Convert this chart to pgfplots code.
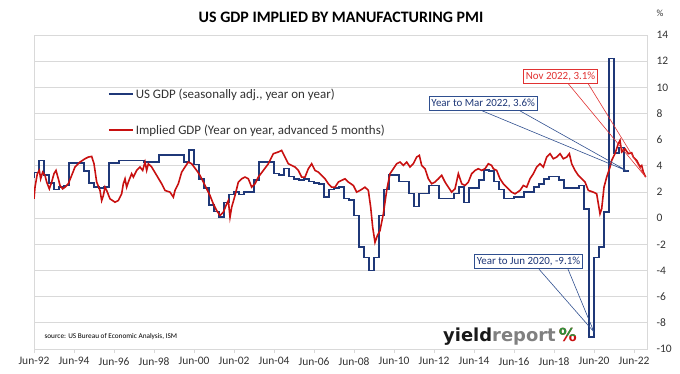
\documentclass[border=0pt]{standalone}
\usepackage{pgfplots}
\pgfplotsset{compat=1.18}
\usepackage{fontspec}
\setmainfont{Carlito}
\newfontfamily\logofont{DejaVu Sans}
\definecolor{gdpblue}{RGB}{31,56,120}
\definecolor{pmired}{RGB}{200,16,16}
\definecolor{gridgray}{RGB}{217,217,217}
\definecolor{txt}{RGB}{50,50,50}
\definecolor{annblue}{RGB}{47,79,143}
\definecolor{annred}{RGB}{225,50,50}
\definecolor{logogreen}{RGB}{40,150,60}

\pgfplotstableread{
m v
5 3.1
8 3.5
11 4.4
14 3.3
17 2.7
20 2.2
23 2.4
26 2.5
29 4.2
32 4.2
35 4.2
38 3.6
41 2.7
44 2.4
47 2.3
50 2.4
53 4.2
56 4.2
59 4.4
62 4.4
65 4.4
68 4.4
71 4.4
74 4.3
77 4.3
80 4.3
83 4.85
86 4.85
89 4.85
92 4.85
95 4.85
98 4.3
101 5.2
104 4.1
107 3.0
110 2.3
113 1.0
116 0.5
119 0.1
122 1.2
125 1.8
128 2.0
131 1.8
134 2.0
137 2.0
140 2.9
143 4.3
146 4.3
149 4.3
152 3.4
155 3.3
158 3.8
161 3.2
164 3.0
167 2.9
170 3.0
173 2.8
176 2.7
179 2.6
182 1.6
185 2.2
188 2.3
191 2.4
194 1.5
197 1.4
200 0.2
203 -2.2
206 -3.0
209 -4.0
212 -3.0
215 0.2
218 2.2
221 3.3
224 3.3
227 2.8
230 2.8
233 1.9
236 0.9
239 1.9
242 1.9
245 2.5
248 2.5
251 1.5
254 1.5
257 1.5
260 1.9
263 2.4
266 1.2
269 2.3
272 2.3
275 2.9
278 3.7
281 3.6
284 2.8
287 2.2
290 1.5
293 1.5
296 1.6
299 1.6
302 2.0
305 2.0
308 2.4
311 2.6
314 3.0
317 3.2
320 3.2
323 2.9
326 2.3
329 2.3
332 2.3
335 2.5
338 0.7
341 -9.1
344 -3.0
347 -2.2
350 0.45
353 12.2
356 5.0
359 5.4
362 3.6
}\gdpdata

\pgfplotstableread{
m v
5 1.48
5.6 2.37
7.0 3.40
8.2 3.65
9.0 3.01
10.2 3.52
11.6 3.27
12.6 2.76
14.2 2.24
15.6 2.76
17.0 3.40
18.2 3.65
19.6 3.01
20.6 2.50
22.2 2.24
23.6 2.37
25.6 2.63
27.6 3.27
29.6 3.91
32.6 4.29
35.6 4.54
37.6 4.67
39.6 4.72
41.0 4.16
42.6 2.76
44.6 2.12
45.6 1.35
46.6 1.73
47.6 2.37
48.6 2.12
50.6 1.48
53.6 1.22
55.6 1.35
57.6 1.86
58.6 2.63
59.6 3.01
60.6 2.37
61.6 2.76
63.6 3.40
64.6 3.14
66.6 3.65
68.6 3.91
70.2 3.65
71.6 4.29
72.6 3.65
73.6 4.16
75.6 3.91
78.6 3.27
81.6 2.63
83.6 2.12
86.6 1.99
88.6 1.61
89.6 2.12
91.6 2.63
93.6 3.52
95.6 3.91
97.6 4.29
99.6 4.16
102.6 3.65
104.6 3.27
106.6 2.76
108.6 2.24
110.6 1.73
112.6 1.09
114.6 0.58
116.6 0.20
118.6 0.46
120.6 1.09
121.6 1.35
122.6 0.07
123.6 0.84
125.6 1.73
127.6 2.76
129.6 3.01
131.6 3.14
133.6 3.01
135.6 2.37
137.6 2.63
139.6 3.14
142.6 3.65
145.6 4.16
148.6 4.93
151.6 5.06
153.6 5.18
155.6 4.67
157.6 4.16
159.6 4.03
161.6 3.91
163.6 3.65
165.6 3.14
167.6 3.14
169.6 3.78
171.6 4.16
173.6 3.65
175.6 3.52
177.6 3.27
179.6 3.01
181.6 2.63
183.6 2.37
185.6 2.37
187.6 2.76
189.6 2.89
191.6 3.01
193.6 2.76
196.6 2.50
198.6 1.99
200.6 2.12
203.6 2.37
205.6 2.12
207.0 0.84
208.2 -0.69
209.6 -1.85
211.0 -1.33
212.6 -0.95
214.6 0.33
216.6 2.12
218.6 3.40
220.6 3.78
222.6 4.16
224.6 4.29
226.6 4.03
228.6 4.29
230.6 3.91
232.6 4.16
234.6 4.67
236.2 4.80
237.6 4.03
239.6 3.78
241.6 3.01
243.6 2.63
245.6 2.76
247.6 3.01
249.6 3.27
251.6 2.76
253.6 2.37
255.6 1.99
257.6 2.24
259.6 3.40
261.6 2.63
263.6 2.50
265.6 2.76
267.6 3.40
269.6 3.65
271.6 3.78
273.6 3.65
275.6 3.78
277.6 4.16
279.6 4.03
280.6 3.78
282.6 3.65
284.6 3.01
286.6 2.63
288.6 2.37
291.6 1.99
293.6 1.86
296.6 2.12
298.6 2.50
300.6 2.37
302.6 3.01
304.6 3.40
306.6 3.91
308.6 4.16
310.6 3.91
312.6 4.67
314.6 4.93
316.6 4.54
318.6 4.67
320.6 4.93
322.6 4.54
324.6 4.67
326.2 4.93
327.6 4.16
329.6 3.65
331.6 3.27
333.6 3.01
335.6 2.76
337.6 2.12
340.6 1.99
342.6 1.86
343.6 1.09
344.6 0.33
345.6 0.71
347.0 2.37
348.6 3.14
350.6 3.91
351.6 4.42
353.6 4.93
355.6 5.70
356.6 5.95
357.6 5.06
359.6 5.30
361.6 4.93
363.6 5.00
364.6 4.67
366.6 4.42
368.6 3.91
369.6 4.03
370.6 3.52
372.0 3.14
}\pmidata

\begin{document}
\begin{tikzpicture}[x=1bp,y=1bp]
\useasboundingbox (-34,-24) rectangle (646,349);
\begin{axis}[
  at={(0,0)}, anchor=south west,
  scale only axis, width=613bp, height=314bp,
  xmin=5, xmax=372.8, ymin=-10, ymax=14,
  axis line style={gridgray, line width=0.8bp},
  ytick={-10,-8,...,14},
  yticklabels={-10,-8,-6,-4,-2,0,2,4,6,8,10,12,14},
  yticklabel pos=right,
  yticklabel style={anchor=west, xshift=6bp, font=\fontsize{11.5}{13}\selectfont, text=txt},
  ytick style={draw=none},
  ymajorgrids, grid style={gridgray, line width=0.8bp},
  xtick={5,29,...,365},
  xticklabels={Jun-92,Jun-94,Jun-96,Jun-98,Jun-00,Jun-02,Jun-04,Jun-06,Jun-08,Jun-10,Jun-12,Jun-14,Jun-16,Jun-18,Jun-20,Jun-22},
  xtick pos=bottom, xtick align=outside, major tick length=4bp,
  xtick style={gridgray, line width=0.8bp},
  xticklabel style={font=\fontsize{11.5}{13}\selectfont, text=txt, yshift=-1bp},
  legend style={at={(0.1207,0.836)}, anchor=north west, draw=none, fill=none,
     font=\fontsize{13}{15}\selectfont, text=txt, row sep=21bp, inner sep=0pt},
  legend cell align=left,
  legend image code/.code={\draw[#1, line width=1.6bp] (0bp,0bp) -- (24bp,0bp);},
]
\addplot[const plot mark right, gdpblue, line width=1.6bp] table[x=m,y=v] {\gdpdata};
\addlegendentry{US GDP (seasonally adj., year on year)}
\addplot[pmired, line width=1.6bp] table[x=m,y=v] {\pmidata};
\addlegendentry{Implied GDP (Year on year, advanced 5 months)}

% callouts
\draw[annred, line width=0.6bp] (axis cs:325.4,10.3) -- (axis cs:372,3.14) -- (axis cs:337.4,10.3);
\node[draw=annred, fill=white, text=annred, line width=0.8bp, inner sep=2.5bp,
  font=\fontsize{11}{13}\selectfont] at (axis cs:320.9,10.86) {Nov 2022, 3.1\%};
\draw[annblue, line width=0.6bp] (axis cs:274,8.2) -- (axis cs:361,3.6) -- (axis cs:296.6,8.2);
\node[draw=annblue, fill=white, text=gdpblue, line width=0.8bp, inner sep=2.5bp,
  font=\fontsize{11}{13}\selectfont] at (axis cs:274.5,8.75) {Year to Mar 2022, 3.6\%};
\draw[annblue, line width=0.6bp] (axis cs:308,-3.9) -- (axis cs:341,-8.7) -- (axis cs:325.4,-3.9);
\node[draw=annblue, fill=white, text=gdpblue, line width=0.8bp, inner sep=2.5bp,
  font=\fontsize{11}{13}\selectfont] at (axis cs:301.7,-3.33) {Year to Jun 2020, -9.1\%};
\end{axis}

% title and other text (pixel coords: x-34, 349-y)
\node[font=\bfseries\fontsize{16}{18}\selectfont, text=black] at (307,332) {US GDP IMPLIED BY MANUFACTURING PMI};
\node[font=\fontsize{9.5}{11}\selectfont, text=txt] at (626,336) {\%};
\node[anchor=west, font=\fontsize{7.3}{8}\selectfont, text=black] at (7,12) {source: US Bureau of Economic Analysis, ISM};
\node[anchor=base west, inner sep=0pt, font=\logofont\bfseries\fontsize{18}{20}\selectfont] (logo) at (409,8)
  {\textcolor{black!90}{yield}\textcolor{gray}{report}\phantom{\,\%}};
\node[anchor=base east, inner sep=0pt, font=\logofont\bfseries\fontsize{18}{20}\selectfont, text=pmired] (pct) at (logo.base east) {\%};
\begin{scope}
  \clip (pct.west |- 0,14) rectangle (pct.north east);
  \node[anchor=base east, inner sep=0pt, font=\logofont\bfseries\fontsize{18}{20}\selectfont, text=logogreen] at (logo.base east) {\%};
\end{scope}
\end{tikzpicture}
\end{document}
